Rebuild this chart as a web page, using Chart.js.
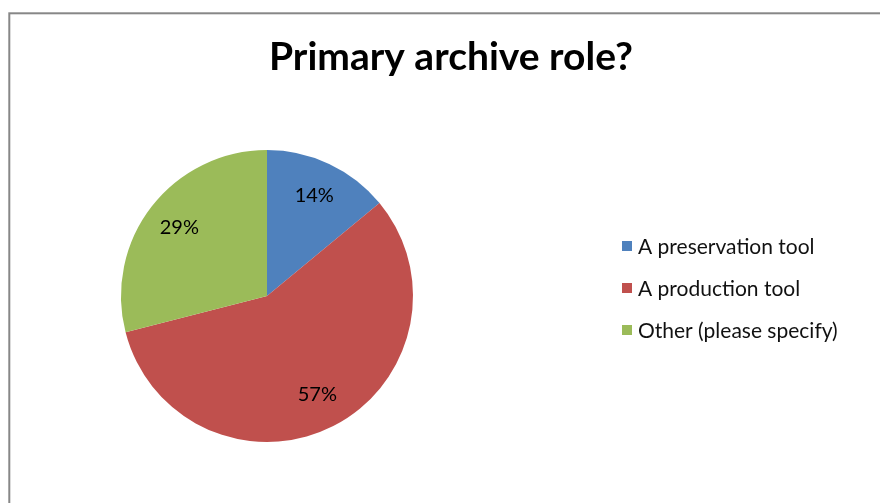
<!DOCTYPE html>
<html>
<head>
<meta charset="utf-8">
<script src="https://cdn.jsdelivr.net/npm/chart.js@4/dist/chart.umd.min.js"></script>
<style>
  html, body { margin: 0; padding: 0; background: #ffffff; }
  #wrap { width: 880px; height: 503px; }
</style>
</head>
<body>
<div id="wrap"><canvas id="c" width="880" height="503"></canvas></div>
<script>
// Survey answers: what the archive is mainly used for
const chartTitle = 'Primary archive role?';
const categories = ['A preservation tool', 'A production tool', 'Other (please specify)'];
const shares = [14, 57, 29];
const sliceColors = ['#4F81BD', '#C0504D', '#9BBB59'];

const FONT = 'Lato, "Open Sans", sans-serif';

// Grey frame round the chart panel
const framePlugin = {
  id: 'frame',
  beforeDraw(chart) {
    const ctx = chart.ctx;
    ctx.save();
    ctx.fillStyle = '#ffffff';
    ctx.fillRect(0, 0, chart.width, chart.height);
    ctx.strokeStyle = '#878787';
    ctx.lineWidth = 2;
    ctx.strokeRect(9.3, 13.3, chart.width + 20, chart.height + 20);
    ctx.restore();
  }
};

// Heading over the whole panel
const headingPlugin = {
  id: 'heading',
  afterDraw(chart) {
    const ctx = chart.ctx;
    ctx.save();
    ctx.fillStyle = '#000000';
    ctx.font = 'bold 39px ' + FONT;
    ctx.textAlign = 'center';
    ctx.textBaseline = 'alphabetic';
    ctx.fillText(chartTitle, 451, 70);
    ctx.restore();
  }
};

// Percentage labels placed inside each slice along its middle angle
const sliceLabelPlugin = {
  id: 'sliceLabels',
  afterDatasetsDraw(chart) {
    const ctx = chart.ctx;
    const meta = chart.getDatasetMeta(0);
    const total = shares.reduce((a, b) => a + b, 0);
    ctx.save();
    ctx.fillStyle = '#000000';
    ctx.font = '20px ' + FONT;
    ctx.textAlign = 'center';
    ctx.textBaseline = 'middle';
    meta.data.forEach((arc, i) => {
      const p = arc.getProps(['x', 'y', 'startAngle', 'endAngle', 'outerRadius'], true);
      const mid = (p.startAngle + p.endAngle) / 2;
      const r = p.outerRadius * 0.76;
      const pct = Math.round(shares[i] / total * 100) + '%';
      ctx.fillText(pct, p.x + Math.cos(mid) * r, p.y + Math.sin(mid) * r);
    });
    ctx.restore();
  }
};

// Legend to the right of the pie
const sideLegendPlugin = {
  id: 'sideLegend',
  afterDraw(chart) {
    const ctx = chart.ctx;
    ctx.save();
    ctx.font = '21px ' + FONT;
    ctx.textBaseline = 'middle';
    ctx.textAlign = 'left';
    categories.forEach((name, i) => {
      const cy = 246 + i * 42;
      ctx.fillStyle = sliceColors[i];
      ctx.fillRect(622, cy - 5, 10, 10);
      ctx.fillStyle = '#111111';
      ctx.fillText(name, 638, cy + 1);
    });
    ctx.restore();
  }
};

new Chart(document.getElementById('c'), {
  type: 'pie',
  data: {
    labels: categories,
    datasets: [{
      data: shares,
      backgroundColor: sliceColors,
      borderWidth: 0,
      hoverOffset: 0
    }]
  },
  options: {
    responsive: false,
    devicePixelRatio: 1,
    animation: false,
    layout: { padding: { left: 121, right: 467, top: 150, bottom: 61 } },
    plugins: {
      legend: { display: false },
      title: { display: false },
      tooltip: { enabled: false }
    },
    events: []
  },
  plugins: [framePlugin, sliceLabelPlugin, headingPlugin, sideLegendPlugin]
});
</script>
</body>
</html>
